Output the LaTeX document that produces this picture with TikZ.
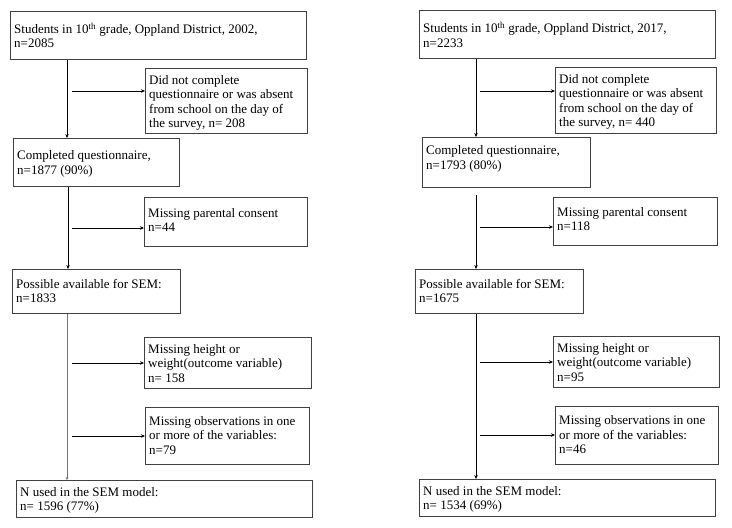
\documentclass[tikz,border=0pt]{standalone}
\usepackage{fontspec}
\setmainfont{Liberation Serif}
\usetikzlibrary{arrows.meta}
\tikzset{
  box/.style={draw=black!75, line width=0.9pt, inner sep=0pt},
  boxtext/.style={inner sep=0pt, align=left, font=\fontsize{13}{14.5}\selectfont},
  flow/.style={line width=1pt, -{Stealth[length=4pt,width=3.5pt]}},
  thinflow/.style={line width=0.5pt, draw=black!55, -{Stealth[length=3pt,width=2.5pt,fill=black]}},
}
\def\flowbox#1#2#3#4#5#6#7{
  % 1: name
  % 2: x (left)
  % 3: y (top)
  % 4: width
  % 5: height
  % 6: text offset from top
  % 7: text
  \node[box, anchor=north west, minimum width=#4pt, minimum height=#5pt] (#1) at (#2,#3) {};
  \node[boxtext, anchor=north west] (#1t) at ([shift={(4pt,-#6pt)}]#1.north west) {#7};
}
\begin{document}
\begin{tikzpicture}[x=1pt,y=-1pt]
  \useasboundingbox (0,0) rectangle (732,528);
  % 2002
  \flowbox{a1}{10}{11}{296}{48}{11.5}{Students in 10\textsuperscript{th} grade, Oppland District, 2002,\\n=2085}
  \flowbox{b1}{145}{68}{162}{65}{7}{Did not complete\\questionnaire or was absent\\from school on the day of\\the survey, n= 208}
  \flowbox{c1}{13}{138}{166}{48}{12.5}{Completed questionnaire,\\n=1877 (90\%)}
  \flowbox{e1}{144}{197}{163}{49}{10.8}{Missing parental consent\\n=44}
  \flowbox{d1}{12}{269}{168}{44}{9.8}{Possible available for SEM:\\n=1833}
  \flowbox{g1}{144}{337}{167}{51}{6.8}{Missing height or\\weight(outcome variable)\\n= 158}
  \flowbox{h1}{145}{407}{164}{57}{8.8}{Missing observations in one\\or more of the variables:\\n=79}
  \flowbox{f1}{16}{480}{296}{37}{6.8}{N used in the SEM model:\\n= 1596 (77\%)}
  % 2017
  \flowbox{a2}{419}{10}{296}{48}{11.8}{Students in 10\textsuperscript{th} grade, Oppland District, 2017,\\n=2233}
  \flowbox{b2}{555}{67}{161}{66}{6.8}{Did not complete\\questionnaire or was absent\\from school on the day of\\the survey, n= 440}
  \flowbox{c2}{422}{137}{168}{50}{8.5}{Completed questionnaire,\\n=1793 (80\%)}
  \flowbox{e2}{553}{197}{164}{48}{9.8}{Missing parental consent\\n=118}
  \flowbox{d2}{415}{269}{168}{44}{9.8}{Possible available for SEM:\\n=1675}
  \flowbox{g2}{553}{336}{166}{51}{6.8}{Missing height or\\weight(outcome variable)\\n=95}
  \flowbox{h2}{555}{406}{163}{58}{9.5}{Missing observations in one\\or more of the variables:\\n=46}
  \flowbox{f2}{419}{479}{296}{37}{6.8}{N used in the SEM model:\\n= 1534 (69\%)}

  % main flow
  \draw[flow] ([xshift=57pt]a1.south west) -- ([xshift=54pt]c1.north west);
  \draw[flow] ([xshift=55pt]c1.south west) -- ([xshift=56pt]d1.north west);
  \draw[thinflow] ([xshift=55pt]d1.south west) -- ([xshift=51pt]f1.north west);
  \draw[flow] ([xshift=57pt]a2.south west) -- ([xshift=54pt]c2.north west);
  \coordinate (gap2) at (476,195);
  \draw[flow] (gap2) -- ([xshift=61pt]d2.north west);
  \draw[flow] ([xshift=61pt]d2.south west) -- ([xshift=57pt]f2.north west);

  % exclusions
  \coordinate (xb1) at (72,91);  \coordinate (xe1) at (72,228);
  \coordinate (xg1) at (72,363); \coordinate (xh1) at (72,436);
  \coordinate (xb2) at (480,91); \coordinate (xe2) at (480,227);
  \coordinate (xg2) at (480,362);\coordinate (xh2) at (480,435);
  \foreach \n in {b1,e1,g1,h1,b2,e2,g2,h2}
    \draw[flow] (x\n) -- (x\n -| \n.west);
\end{tikzpicture}
\end{document}
